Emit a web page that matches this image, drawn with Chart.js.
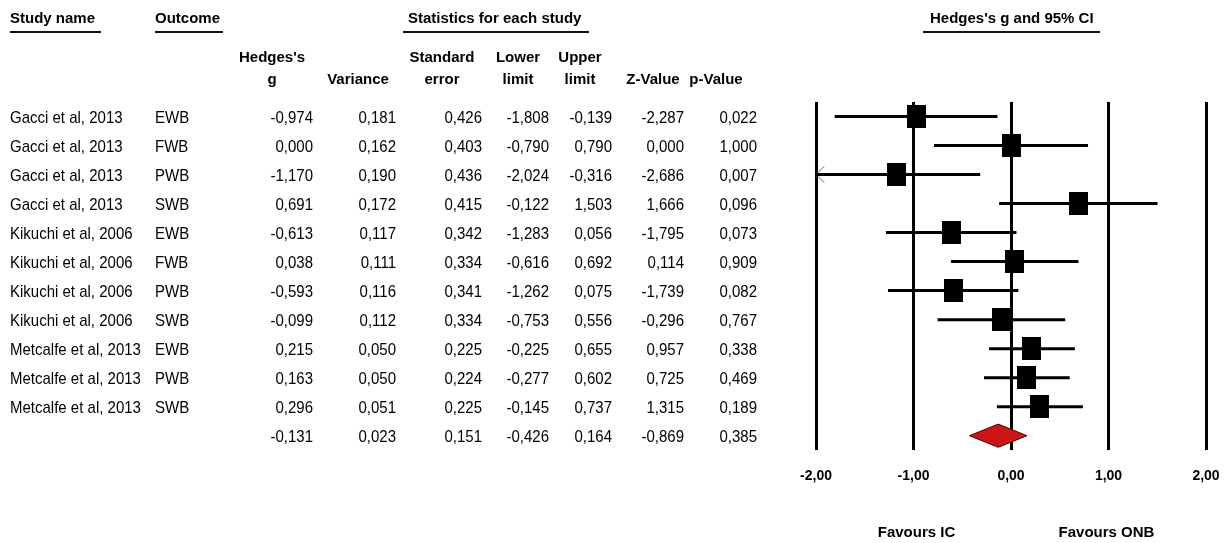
<!DOCTYPE html>
<html><head><meta charset="utf-8">
<script src="https://cdn.jsdelivr.net/npm/chart.js@4.4.0/dist/chart.umd.min.js"></script>
<style>
html,body{margin:0;padding:0;background:#fff;}
#wrap{position:relative;width:1228px;height:543px;overflow:hidden;background:#fff;}
#c{position:absolute;left:0;top:0;}
.t{position:absolute;white-space:nowrap;color:#000;line-height:20px;height:20px;}
.h{font-family:"Liberation Sans",Arial,sans-serif;font-weight:bold;font-size:15px;}
.d{transform:scaleY(1.12);}
.ul{position:absolute;height:2px;background:#111;}
.c{text-align:center;width:120px;}
</style></head><body><div id="wrap"><canvas id="c" width="1228" height="543"></canvas></div>
<script>
// ---- data ----
const studies = ["Gacci et al, 2013","Gacci et al, 2013","Gacci et al, 2013","Gacci et al, 2013",
  "Kikuchi et al, 2006","Kikuchi et al, 2006","Kikuchi et al, 2006","Kikuchi et al, 2006",
  "Metcalfe et al, 2013","Metcalfe et al, 2013","Metcalfe et al, 2013"];
const outcomes = ["EWB","FWB","PWB","SWB","EWB","FWB","PWB","SWB","EWB","PWB","SWB"];
const hedgesG   = [-0.974, 0.000, -1.170, 0.691, -0.613, 0.038, -0.593, -0.099, 0.215, 0.163, 0.296];
const variance  = [0.181, 0.162, 0.190, 0.172, 0.117, 0.111, 0.116, 0.112, 0.050, 0.050, 0.051];
const stdError  = [0.426, 0.403, 0.436, 0.415, 0.342, 0.334, 0.341, 0.334, 0.225, 0.224, 0.225];
const lowerLimit= [-1.808, -0.790, -2.024, -0.122, -1.283, -0.616, -1.262, -0.753, -0.225, -0.277, -0.145];
const upperLimit= [-0.139, 0.790, -0.316, 1.503, 0.056, 0.692, 0.075, 0.556, 0.655, 0.602, 0.737];
const zValue    = [-2.287, 0.000, -2.686, 1.666, -1.795, 0.114, -1.739, -0.296, 0.957, 0.725, 1.315];
const pValue    = [0.022, 1.000, 0.007, 0.096, 0.073, 0.909, 0.082, 0.767, 0.338, 0.469, 0.189];
const summaryRow= [-0.131, 0.023, 0.151, -0.426, 0.164, -0.869, 0.385]; // g, var, se, lower, upper, z, p
const xTicks    = [-2, -1, 0, 1, 2];

// ---- helpers ----
const fmt3 = v => (v < 0 ? "-" : "") + Math.abs(v).toFixed(3).replace(".", ",");
const fmt2 = v => (v < 0 ? "-" : "") + Math.abs(v).toFixed(2).replace(".", ",");
const dataFont = '15px "Liberation Sans", Arial, sans-serif';

const xMin = xTicks[0], xMax = xTicks[xTicks.length-1];
const n = hedgesG.length;

// square marker
const sq = document.createElement('canvas'); sq.width = 19; sq.height = 23;
{ const g = sq.getContext('2d'); g.fillStyle = '#000'; g.fillRect(0,0,19,23); }

const datasets = [];
datasets.push({
  label:'g', data: hedgesG.map((v,i)=>({x:v,y:i})), showLine:false,
  pointStyle: sq, pointRadius: 10, order: 0
});
datasets.push({
  label:'summary',
  data:[{x:summaryRow[3],y:n},{x:summaryRow[0],y:n-0.4},{x:summaryRow[4],y:n},{x:summaryRow[0],y:n+0.4},{x:summaryRow[3],y:n}],
  fill:'shape', backgroundColor:'#cc1515', borderColor:'#4a0000', borderWidth:1, pointRadius:0, tension:0, order:1
});
for (let i=0;i<n;i++){
  datasets.push({
    label:'ci'+i,
    data:[{x:Math.max(lowerLimit[i],xMin),y:i},{x:Math.min(upperLimit[i],xMax),y:i}],
    borderColor:'#000', borderWidth:3, pointRadius:0, fill:false, order:2
  });
  if (lowerLimit[i] < xMin){
    datasets.push({
      label:'arrow'+i,
      data:[{x:xMin+0.085,y:i-0.28},{x:xMin,y:i},{x:xMin+0.085,y:i+0.28}],
      borderColor:'#666', borderWidth:1, pointRadius:0, fill:false, order:2
    });
  }
}

const chart = new Chart(document.getElementById('c'), {
  type:'line',
  data:{ datasets },
  options:{
    responsive:false, animation:false, devicePixelRatio:1,
    layout:{ padding:{ left:816, right:22, top:102, bottom:56 } },
    plugins:{ legend:{display:false}, tooltip:{enabled:false} },
    scales:{
      x:{ type:'linear', min:xMin, max:xMax,
          afterBuildTicks: s => { s.ticks = xTicks.map(v=>({value:v})); },
          grid:{ color:'#000', lineWidth:3, drawTicks:true, tickLength:16, tickColor:'rgba(0,0,0,0)' },
          border:{ display:false },
          ticks:{ color:'#000', padding:2, autoSkip:false, maxRotation:0,
                  font:{ family:'"Liberation Sans", Arial, sans-serif', size:14, weight:'bold' },
                  callback: v => fmt2(v) } },
      y:{ type:'linear', min:-0.5, max:n+0.5, reverse:true, display:false }
    }
  }
});

// ---- table (HTML text) ----
const wrap = document.getElementById('wrap');
function addText(txt, opts){
  const d = document.createElement('div'); d.className = 't' + (opts.cls ? ' '+opts.cls : '');
  d.textContent = txt;
  if (opts.font) d.style.font = opts.font;
  if (opts.left !== undefined) d.style.left = opts.left + 'px';
  if (opts.right !== undefined) d.style.right = (1228 - opts.right) + 'px';
  if (opts.center !== undefined) { d.style.left = (opts.center - 60) + 'px'; d.classList.add('c'); }
  d.style.top = (opts.y - 10) + 'px';
  if (opts.font) d.style.lineHeight = '20px';
  wrap.appendChild(d);
}
function addLine(x1, x2, y){
  const d = document.createElement('div'); d.className='ul';
  d.style.left = x1+'px'; d.style.width = (x2-x1)+'px'; d.style.top = y+'px';
  wrap.appendChild(d);
}
// top headers
addText("Study name", {cls:'h', left:10, y:18}); addLine(10,101,31);
addText("Outcome", {cls:'h', left:155, y:18}); addLine(155,223,31);
addText("Statistics for each study", {cls:'h', left:408, y:18}); addLine(403,589,31);
addText("Hedges's g and 95% CI", {cls:'h', left:930, y:18}); addLine(923,1100,31);
// column headers
const colRight = [313, 396, 482, 549, 612, 684, 757];
const colHead = [["Hedges's","g",272],["","Variance",358],["Standard","error",442],["Lower","limit",518],["Upper","limit",580],["","Z-Value",653],["","p-Value",716]];
colHead.forEach(h => {
  if (h[0]) addText(h[0], {cls:'h', center:h[2], y:57});
  addText(h[1], {cls:'h', center:h[2], y:79});
});
const ys = chart.scales.y;
for (let i=0;i<n;i++){
  const y = ys.getPixelForValue(i);
  addText(studies[i], {cls:'d', font:dataFont, left:10, y});
  addText(outcomes[i], {cls:'d', font:dataFont, left:155, y});
  const vals = [hedgesG[i], variance[i], stdError[i], lowerLimit[i], upperLimit[i], zValue[i], pValue[i]];
  vals.forEach((v,k)=> addText(fmt3(v), {cls:'d', font:dataFont, right:colRight[k], y}));
}
{
  const y = ys.getPixelForValue(n);
  summaryRow.forEach((v,k)=> addText(fmt3(v), {cls:'d', font:dataFont, right:colRight[k], y}));
}
// favours labels
const xs = chart.scales.x;
addText("Favours IC", {cls:'h', center:xs.getPixelForValue(-1)+3, y:532});
addText("Favours ONB", {cls:'h', center:xs.getPixelForValue(1)-2, y:532});
</script></body></html>
